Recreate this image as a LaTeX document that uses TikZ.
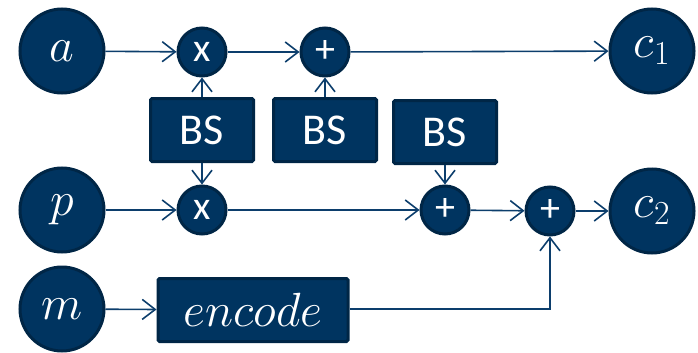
\RequirePackage{fix-cm}
\documentclass[tikz,border=0pt]{standalone}
\usepackage{fontspec}
\setsansfont{Carlito}
\usetikzlibrary{arrows.meta}
\definecolor{nodefill}{RGB}{0,52,96}
\definecolor{nodeedge}{RGB}{0,38,70}
\definecolor{wire}{RGB}{12,62,108}
\tikzset{
  bigcirc/.style={circle, fill=nodefill, draw=nodeedge, line width=3pt,
    minimum size=84pt, inner sep=0pt, text=white, font=\fontsize{48}{52}\selectfont},
  opcirc/.style={circle, fill=nodefill, draw=nodeedge, line width=3pt,
    minimum size=48pt, inner sep=0pt, text=white, font=\sffamily\fontsize{40}{42}\selectfont},
  bsbox/.style={rectangle, rounded corners=1.5pt, fill=nodefill, draw=nodeedge, line width=3pt,
    minimum width=103pt, minimum height=63pt, inner sep=0pt, text=white,
    font=\sffamily\fontsize{44}{48}\selectfont},
  wireto/.style={draw=wire, line width=1.6pt,
    -{Straight Barb[length=13pt,width=20pt,line width=1.6pt]}},
}
\begin{document}
\begin{tikzpicture}[x=1pt,y=-1pt]
\useasboundingbox (0,0) rectangle (698,353);
% inputs
\node[bigcirc] (a) at (62,51) {$a$};
\node[bigcirc] (p) at (62,210) {$p$};
\node[bigcirc] (m) at (62,309) {$m$};
% outputs
\node[bigcirc] (c1) at (652,51) {$c_1$};
\node[bigcirc] (c2) at (652,211) {$c_2$};
% operators
\node[opcirc] (x1) at (202,52) {x};
\node[opcirc] (s1) at (325,52) {+};
\node[opcirc] (x2) at (202,210) {x};
\node[opcirc] (s2) at (445,210) {+};
\node[opcirc] (s3) at (550,211) {+};
% blocks
\node[bsbox] (b1) at (202,130) {BS};
\node[bsbox] (b2) at (325,130) {BS};
\node[bsbox] (b3) at (445,132) {BS};
\node[bsbox, minimum width=190pt, font=\fontsize{48}{52}\selectfont] (enc) at (253,310) {$encode$};
% top path
\draw[wireto] (a) -- (x1);
\draw[wireto] (x1) -- (s1);
\draw[wireto] (s1) -- (c1);
% middle path
\draw[wireto] (p) -- (x2);
\draw[wireto] (x2) -- (s2);
\draw[wireto] (s2) -- (s3);
\draw[wireto] (s3) -- (c2);
% key streams
\draw[wireto] (b1) -- (x1);
\draw[wireto] (b1) -- (x2);
\draw[wireto] (b2) -- (s1);
\draw[wireto] (b3) -- (s2);
% message path
\draw[wireto] (m) -- (enc);
\draw[wireto] (enc.east |- 0,309) -| (s3);
\end{tikzpicture}
\end{document}
